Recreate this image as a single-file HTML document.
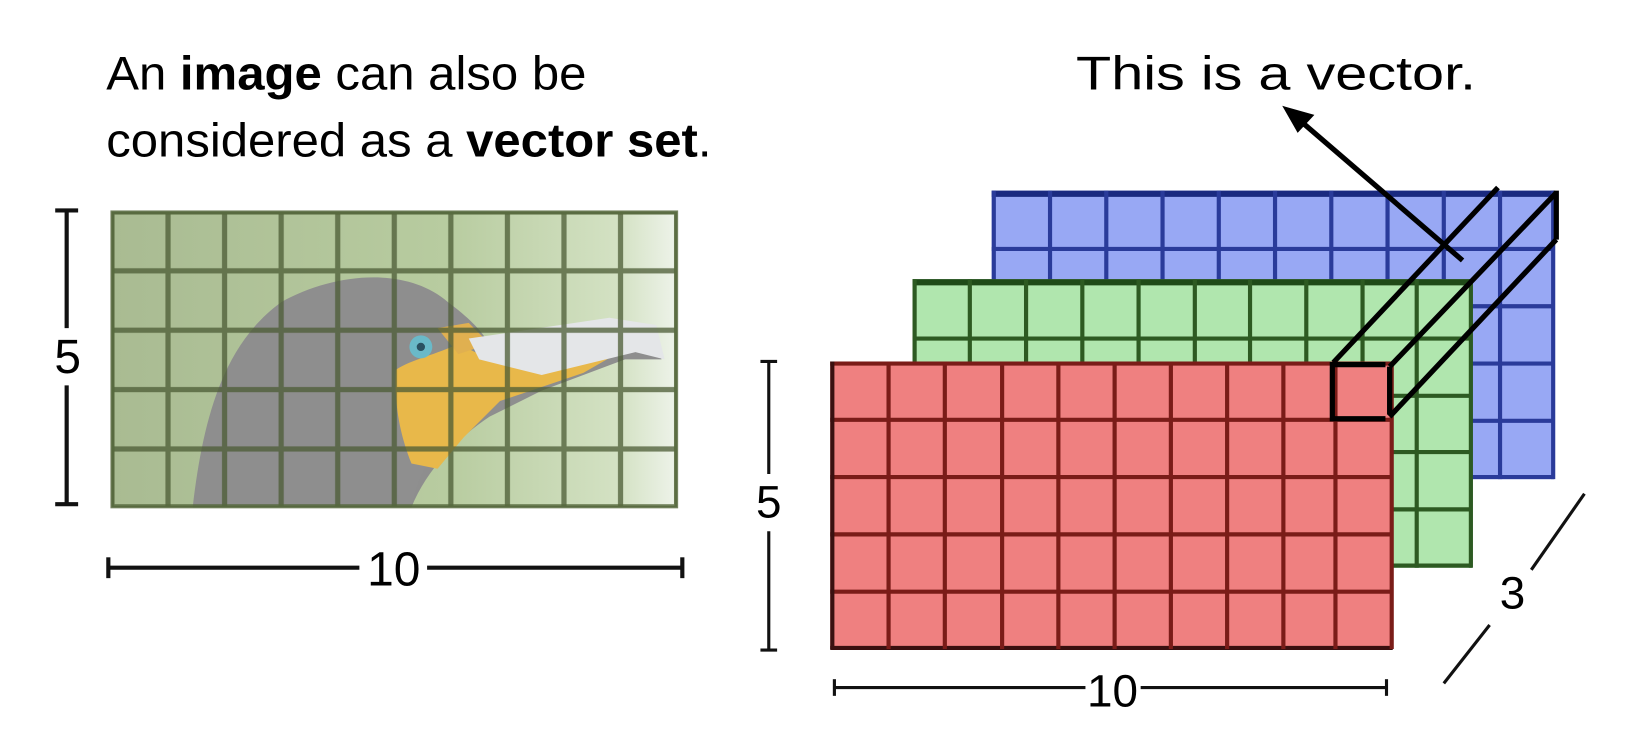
<!DOCTYPE html>
<html><head><meta charset="utf-8"><style>html,body{margin:0;padding:0;background:#fff}svg{display:block}</style></head>
<body>
<svg width="1630" height="748" viewBox="0 0 1630 748" xmlns="http://www.w3.org/2000/svg" font-family="Liberation Sans, sans-serif">
<defs>
<linearGradient id="bg" x1="0" y1="0" x2="1" y2="0">
<stop offset="0" stop-color="#a9bb92"/><stop offset="0.6" stop-color="#b8cca0"/><stop offset="0.9" stop-color="#d4e2c4"/><stop offset="1" stop-color="#eef3ea"/></linearGradient>
<pattern id="gBird" x="107" y="203" width="54.3" height="57" patternUnits="userSpaceOnUse">
<rect x="0" y="0" width="54.3" height="57" fill="none" stroke="#4a5a34" stroke-width="5" opacity="0.75"/></pattern>
</defs>
<g transform="scale(1.0417)">
<text x="102" y="86" font-size="45" textLength="461" lengthAdjust="spacingAndGlyphs">An <tspan font-weight="bold">image</tspan> can also be</text>
<text x="102" y="150" font-size="45" textLength="581" lengthAdjust="spacingAndGlyphs">considered as a <tspan font-weight="bold">vector set</tspan>.</text>
<text x="1033" y="86" font-size="45" textLength="384" lengthAdjust="spacingAndGlyphs">This is a vector.</text>

<!-- bird -->
<rect x="107" y="203" width="543" height="284" fill="url(#bg)"/>
<path d="M185 487 C195 400 215 330 270 290 C320 262 390 255 430 290 C450 305 460 315 470 330 L470 330 L585 310 L630 318 L635 345 L600 345 L520 375 L470 400 C440 420 410 450 395 487 Z" fill="#8e8e8e"/>
<path d="M395 487 C405 440 430 410 470 395 L455 380 C430 370 395 375 380 410 C375 440 380 470 385 487 Z" fill="#8f8f8f"/>
<path d="M380 355 C395 345 420 340 440 330 L470 345 L520 350 L600 335 L560 358 L480 385 L445 420 L420 450 L395 445 C385 420 378 390 380 355 Z" fill="#e8b84a"/>
<path d="M420 315 L450 310 L470 330 L440 340 Z" fill="#e0b050"/>
<path d="M450 325 L585 305 L630 312 L638 345 L610 338 L520 360 L460 345 Z" fill="#e4e6e8"/>
<circle cx="404" cy="333" r="11" fill="#6ab9c8"/>
<circle cx="404" cy="333" r="4" fill="#2a5060"/>
<rect x="107" y="203" width="543" height="284" fill="url(#gBird)"/>
<rect x="108" y="204" width="541" height="282" fill="none" stroke="#55683c" stroke-width="4" opacity="0.8"/>

<g stroke="#111" stroke-width="4" fill="none">
<line x1="64" y1="202" x2="64" y2="315"/><line x1="64" y1="370" x2="64" y2="484"/>
<line x1="53" y1="202" x2="75" y2="202"/><line x1="53" y1="484" x2="75" y2="484"/>
<line x1="104" y1="545" x2="345" y2="545"/><line x1="410" y1="545" x2="655" y2="545"/>
<line x1="104" y1="535" x2="104" y2="555"/><line x1="655" y1="535" x2="655" y2="555"/>
</g>
<text x="65" y="358" font-size="46" text-anchor="middle">5</text>
<text x="378" y="562" font-size="46" text-anchor="middle">10</text>

<!-- blue -->
<g>
<rect x="952" y="183" width="540" height="277" fill="#98a8f4"/>
<g stroke="#2a3b9a" stroke-width="4">
<line x1="952" y1="186" x2="1492" y2="186" stroke-width="6" stroke="#1a2a80"/>
<line x1="952" y1="239" x2="1492" y2="239"/><line x1="952" y1="294" x2="1492" y2="294"/><line x1="952" y1="349" x2="1492" y2="349"/><line x1="952" y1="404" x2="1492" y2="404"/><line x1="952" y1="458" x2="1492" y2="458"/>
<line x1="954" y1="183" x2="954" y2="460"/><line x1="1008" y1="183" x2="1008" y2="460"/><line x1="1062" y1="183" x2="1062" y2="460"/><line x1="1116" y1="183" x2="1116" y2="460"/><line x1="1170" y1="183" x2="1170" y2="460"/><line x1="1224" y1="183" x2="1224" y2="460"/><line x1="1278" y1="183" x2="1278" y2="460"/><line x1="1332" y1="183" x2="1332" y2="460"/><line x1="1386" y1="183" x2="1386" y2="460"/><line x1="1440" y1="183" x2="1440" y2="460"/><line x1="1491" y1="183" x2="1491" y2="460"/>
</g></g>
<!-- green -->
<g>
<rect x="876" y="268" width="537" height="277" fill="#b0e6ae"/>
<g stroke="#2d5a22" stroke-width="4">
<line x1="876" y1="271" x2="1413" y2="271" stroke-width="6" stroke="#1f4a18"/>
<line x1="876" y1="325" x2="1413" y2="325"/><line x1="876" y1="380" x2="1413" y2="380"/><line x1="876" y1="434" x2="1413" y2="434"/><line x1="876" y1="489" x2="1413" y2="489"/><line x1="876" y1="543" x2="1413" y2="543"/>
<line x1="878" y1="268" x2="878" y2="545"/><line x1="931" y1="268" x2="931" y2="545"/><line x1="985" y1="268" x2="985" y2="545"/><line x1="1039" y1="268" x2="1039" y2="545"/><line x1="1093" y1="268" x2="1093" y2="545"/><line x1="1147" y1="268" x2="1147" y2="545"/><line x1="1200" y1="268" x2="1200" y2="545"/><line x1="1254" y1="268" x2="1254" y2="545"/><line x1="1308" y1="268" x2="1308" y2="545"/><line x1="1360" y1="268" x2="1360" y2="545"/><line x1="1412" y1="268" x2="1412" y2="545"/>
</g></g>
<!-- red -->
<g>
<rect x="797" y="347" width="540" height="276" fill="#ef8080"/>
<g stroke="#7a1c18" stroke-width="4">
<line x1="797" y1="349" x2="1337" y2="349"/><line x1="797" y1="403" x2="1337" y2="403"/><line x1="797" y1="458" x2="1337" y2="458"/><line x1="797" y1="513" x2="1337" y2="513"/><line x1="797" y1="568" x2="1337" y2="568"/><line x1="797" y1="622" x2="1337" y2="622" stroke="#3a1010"/>
<line x1="799" y1="347" x2="799" y2="623" stroke="#3a1010"/><line x1="853" y1="347" x2="853" y2="623"/><line x1="907" y1="347" x2="907" y2="623"/><line x1="962" y1="347" x2="962" y2="623"/><line x1="1016" y1="347" x2="1016" y2="623"/><line x1="1070" y1="347" x2="1070" y2="623"/><line x1="1124" y1="347" x2="1124" y2="623"/><line x1="1178" y1="347" x2="1178" y2="623"/><line x1="1232" y1="347" x2="1232" y2="623"/><line x1="1282" y1="347" x2="1282" y2="623"/><line x1="1336" y1="347" x2="1336" y2="623"/>
</g></g>

<!-- vector box -->
<g stroke="#000" stroke-width="5" fill="none" stroke-linejoin="miter">
<path d="M1330 350 L1279 350 L1279 402 L1330 402"/>
<line x1="1334" y1="352" x2="1334" y2="398"/>
<line x1="1280" y1="348" x2="1438" y2="180"/>
<line x1="1334" y1="352" x2="1494" y2="185"/>
<line x1="1334" y1="400" x2="1494" y2="230"/>
<line x1="1494" y1="183" x2="1494" y2="230"/>
<line x1="1404" y1="250" x2="1246" y2="114"/>
</g>
<path d="M1234 104 L1259 111 L1246 125 Z" fill="#000" stroke="#000" stroke-width="3"/>

<!-- dims right -->
<g stroke="#111" stroke-width="3" fill="none">
<line x1="738" y1="347" x2="738" y2="455"/><line x1="738" y1="510" x2="738" y2="624"/>
<line x1="730" y1="347" x2="746" y2="347"/><line x1="730" y1="624" x2="746" y2="624"/>
<line x1="801" y1="660" x2="1042" y2="660"/><line x1="1095" y1="660" x2="1331" y2="660"/>
<line x1="801" y1="652" x2="801" y2="668"/><line x1="1331" y1="652" x2="1331" y2="668"/>
<line x1="1521" y1="474" x2="1470" y2="547"/><line x1="1430" y1="600" x2="1386" y2="656"/>
</g>
<text x="738" y="497" font-size="44" text-anchor="middle">5</text>
<text x="1068" y="678" font-size="44" text-anchor="middle">10</text>
<text x="1452" y="584" font-size="44" text-anchor="middle">3</text>
</g>
</svg>
</body></html>
